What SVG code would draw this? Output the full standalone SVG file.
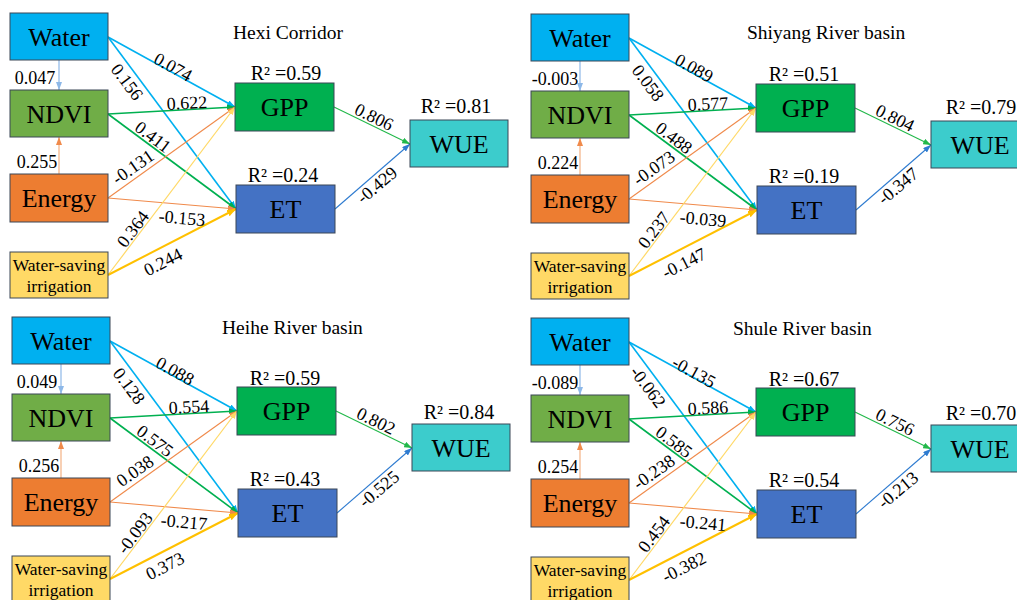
<svg xmlns="http://www.w3.org/2000/svg" width="1017" height="600" viewBox="0 0 1017 600" font-family="'Times New Roman', 'Liberation Serif', Tinos, 'DejaVu Serif', serif">
<style>
.box{stroke:#3b4656;stroke-width:1}
.water{fill:#00b0f0}.ndvi{fill:#70ad47}.energy{fill:#ed7d31}.wsi{fill:#ffd966}.gpp{fill:#00b050}.et{fill:#4472c4}.wue{fill:#3ccccc}
text{font-family:'Times New Roman','Liberation Serif',Tinos,serif;fill:#000}
.bt{font-size:26px;text-anchor:middle}
.st{font-size:17.5px;text-anchor:middle}
.lb{font-size:18px;text-anchor:middle}
.r2{font-size:20px;text-anchor:middle}
.ti{font-size:19.5px}
.e{fill:none}
.cw{stroke:#00b0f0;stroke-width:1.6}
.cwn{stroke:#8db8e8;stroke-width:1.2}
.cn{stroke:#00b050;stroke-width:1.6}
.ce{stroke:#f08a4b;stroke-width:1.1}
.cen{stroke:#f4b183;stroke-width:1.2}
.cy{stroke:#ffd966;stroke-width:1.2}
.cyy{stroke:#ffc000;stroke-width:2}
.cg{stroke:#22b84a;stroke-width:1.1}
.cb{stroke:#2e7bd0;stroke-width:1.1}
</style>
<defs>
<marker id="aw" markerUnits="userSpaceOnUse" markerWidth="8" markerHeight="6" refX="8" refY="3" orient="auto"><path d="M0,0L8,3L0,6z" fill="#00b0f0"/></marker>
<marker id="awn" markerUnits="userSpaceOnUse" markerWidth="8" markerHeight="6" refX="8" refY="3" orient="auto"><path d="M0,0L8,3L0,6z" fill="#8db8e8"/></marker>
<marker id="an" markerUnits="userSpaceOnUse" markerWidth="8" markerHeight="6" refX="8" refY="3" orient="auto"><path d="M0,0L8,3L0,6z" fill="#00b050"/></marker>
<marker id="ae" markerUnits="userSpaceOnUse" markerWidth="8" markerHeight="6" refX="8" refY="3" orient="auto"><path d="M0,0L8,3L0,6z" fill="#f08a4b"/></marker>
<marker id="aen" markerUnits="userSpaceOnUse" markerWidth="8" markerHeight="6" refX="8" refY="3" orient="auto"><path d="M0,0L8,3L0,6z" fill="#f08a4b"/></marker>
<marker id="ay" markerUnits="userSpaceOnUse" markerWidth="8" markerHeight="6" refX="8" refY="3" orient="auto"><path d="M0,0L8,3L0,6z" fill="#ffd966"/></marker>
<marker id="ayy" markerUnits="userSpaceOnUse" markerWidth="9" markerHeight="7" refX="9" refY="3.5" orient="auto"><path d="M0,0L9,3.5L0,7z" fill="#ffc000"/></marker>
<marker id="ag" markerUnits="userSpaceOnUse" markerWidth="8" markerHeight="6" refX="8" refY="3" orient="auto"><path d="M0,0L8,3L0,6z" fill="#22b84a"/></marker>
<marker id="ab" markerUnits="userSpaceOnUse" markerWidth="8" markerHeight="6" refX="8" refY="3" orient="auto"><path d="M0,0L8,3L0,6z" fill="#2e7bd0"/></marker>
</defs>

<!-- Panel 1: Hexi Corridor -->
<g id="panel1">
<text class="ti" x="233" y="39">Hexi Corridor</text>
<g id="p1-connectors">
<line class="e cwn" x1="59" y1="60" x2="59" y2="90" marker-end="url(#awn)"/>
<line class="e cen" x1="59" y1="174" x2="59" y2="137" marker-end="url(#aen)"/>
<line class="e cw" x1="108" y1="37" x2="235" y2="107" marker-end="url(#aw)"/>
<line class="e cw" x1="108" y1="37" x2="236" y2="209" marker-end="url(#aw)"/>
<line class="e cn" x1="108" y1="114" x2="235" y2="107" marker-end="url(#an)"/>
<line class="e cn" x1="108" y1="114" x2="236" y2="209" marker-end="url(#an)"/>
<line class="e ce" x1="108" y1="198" x2="235" y2="107" marker-end="url(#ae)"/>
<line class="e ce" x1="108" y1="198" x2="236" y2="209" marker-end="url(#ae)"/>
<line class="e cy" x1="108" y1="275" x2="235" y2="107" marker-end="url(#ay)"/>
<line class="e cyy" x1="108" y1="275" x2="236" y2="209" marker-end="url(#ayy)"/>
<line class="e cg" x1="334" y1="107" x2="410" y2="144" marker-end="url(#ag)"/>
<line class="e cb" x1="335" y1="209" x2="410" y2="144" marker-end="url(#ab)"/>
<text class="lb" transform="translate(173,67) rotate(29)" y="6">0.074</text>
<text class="lb" transform="translate(127,82) rotate(53)" y="6">0.156</text>
<text class="lb" transform="translate(187,103) rotate(-3)" y="6">0.622</text>
<text class="lb" transform="translate(153,137) rotate(37)" y="6">0.411</text>
<text class="lb" x="35" y="84">0.047</text>
<text class="lb" x="37" y="168">0.255</text>
<text class="lb" transform="translate(133,167) rotate(-35)" y="6">-0.131</text>
<text class="lb" transform="translate(182,218) rotate(5)" y="6">-0.153</text>
<text class="lb" transform="translate(133,229) rotate(-53)" y="6">0.364</text>
<text class="lb" transform="translate(163,262) rotate(-27)" y="6">0.244</text>
<text class="lb" transform="translate(374,117) rotate(26)" y="6">0.806</text>
<text class="lb" transform="translate(377,185) rotate(-40)" y="6">-0.429</text>
</g>
<g id="p1-water"><rect class="box water" x="10" y="13" width="98" height="47"/><text class="bt" x="59" y="46">Water</text></g>
<g id="p1-ndvi"><rect class="box ndvi" x="10" y="90" width="98" height="47"/><text class="bt" x="59" y="123">NDVI</text></g>
<g id="p1-energy"><rect class="box energy" x="10" y="174" width="98" height="48"/><text class="bt" x="59" y="207">Energy</text></g>
<g id="p1-wsi"><rect class="box wsi" x="10" y="252" width="98" height="46"/><text class="st" x="59" y="271">Water-saving</text><text class="st" x="59" y="292">irrigation</text></g>
<g id="p1-gpp"><rect class="box gpp" x="235" y="83" width="99" height="48"/><text class="bt" x="284.5" y="116">GPP</text><text class="r2" x="286" y="80">R² =0.59</text></g>
<g id="p1-et"><rect class="box et" x="236" y="185" width="99" height="48"/><text class="bt" x="285.5" y="218">ET</text><text class="r2" x="283" y="182">R² =0.24</text></g>
<g id="p1-wue"><rect class="box wue" x="410" y="120" width="98" height="47"/><text class="bt" x="459" y="153">WUE</text><text class="r2" x="456" y="113">R² =0.81</text></g>
</g>

<!-- Panel 2: Shiyang River basin -->
<g id="panel2" transform="translate(521,1)">
<text class="ti" x="226" y="38">Shiyang River basin</text>
<g id="p2-connectors">
<line class="e cwn" x1="59" y1="60" x2="59" y2="90" marker-end="url(#awn)"/>
<line class="e cen" x1="59" y1="174" x2="59" y2="137" marker-end="url(#aen)"/>
<line class="e cw" x1="108" y1="37" x2="235" y2="107" marker-end="url(#aw)"/>
<line class="e cw" x1="108" y1="37" x2="236" y2="209" marker-end="url(#aw)"/>
<line class="e cn" x1="108" y1="114" x2="235" y2="107" marker-end="url(#an)"/>
<line class="e cn" x1="108" y1="114" x2="236" y2="209" marker-end="url(#an)"/>
<line class="e ce" x1="108" y1="198" x2="235" y2="107" marker-end="url(#ae)"/>
<line class="e ce" x1="108" y1="198" x2="236" y2="209" marker-end="url(#ae)"/>
<line class="e cy" x1="108" y1="275" x2="235" y2="107" marker-end="url(#ay)"/>
<line class="e cyy" x1="108" y1="275" x2="236" y2="209" marker-end="url(#ayy)"/>
<line class="e cg" x1="334" y1="107" x2="410" y2="144" marker-end="url(#ag)"/>
<line class="e cb" x1="335" y1="209" x2="410" y2="144" marker-end="url(#ab)"/>
<text class="lb" transform="translate(173,67) rotate(29)" y="6">0.089</text>
<text class="lb" transform="translate(127,82) rotate(53)" y="6">0.058</text>
<text class="lb" transform="translate(187,103) rotate(-3)" y="6">0.577</text>
<text class="lb" transform="translate(153,137) rotate(37)" y="6">0.488</text>
<text class="lb" x="34" y="84">-0.003</text>
<text class="lb" x="37" y="168">0.224</text>
<text class="lb" transform="translate(133,167) rotate(-35)" y="6">-0.073</text>
<text class="lb" transform="translate(182,218) rotate(5)" y="6">-0.039</text>
<text class="lb" transform="translate(133,229) rotate(-53)" y="6">0.237</text>
<text class="lb" transform="translate(163,262) rotate(-27)" y="6">-0.147</text>
<text class="lb" transform="translate(374,117) rotate(26)" y="6">0.804</text>
<text class="lb" transform="translate(377,185) rotate(-40)" y="6">-0.347</text>
</g>
<g id="p2-water"><rect class="box water" x="10" y="13" width="98" height="47"/><text class="bt" x="59" y="46">Water</text></g>
<g id="p2-ndvi"><rect class="box ndvi" x="10" y="90" width="98" height="47"/><text class="bt" x="59" y="123">NDVI</text></g>
<g id="p2-energy"><rect class="box energy" x="10" y="174" width="98" height="48"/><text class="bt" x="59" y="207">Energy</text></g>
<g id="p2-wsi"><rect class="box wsi" x="10" y="252" width="98" height="46"/><text class="st" x="59" y="271">Water-saving</text><text class="st" x="59" y="292">irrigation</text></g>
<g id="p2-gpp"><rect class="box gpp" x="235" y="83" width="99" height="48"/><text class="bt" x="284.5" y="116">GPP</text><text class="r2" x="283" y="80">R² =0.51</text></g>
<g id="p2-et"><rect class="box et" x="236" y="185" width="99" height="48"/><text class="bt" x="285.5" y="218">ET</text><text class="r2" x="283" y="182">R² =0.19</text></g>
<g id="p2-wue"><rect class="box wue" x="410" y="120" width="98" height="47"/><text class="bt" x="459" y="153">WUE</text><text class="r2" x="460" y="113">R² =0.79</text></g>
</g>

<!-- Panel 3: Heihe River basin -->
<g id="panel3" transform="translate(2,304)">
<text class="ti" x="220" y="30">Heihe River basin</text>
<g id="p3-connectors">
<line class="e cwn" x1="59" y1="60" x2="59" y2="90" marker-end="url(#awn)"/>
<line class="e cen" x1="59" y1="174" x2="59" y2="137" marker-end="url(#aen)"/>
<line class="e cw" x1="108" y1="37" x2="235" y2="107" marker-end="url(#aw)"/>
<line class="e cw" x1="108" y1="37" x2="236" y2="209" marker-end="url(#aw)"/>
<line class="e cn" x1="108" y1="114" x2="235" y2="107" marker-end="url(#an)"/>
<line class="e cn" x1="108" y1="114" x2="236" y2="209" marker-end="url(#an)"/>
<line class="e ce" x1="108" y1="198" x2="235" y2="107" marker-end="url(#ae)"/>
<line class="e ce" x1="108" y1="198" x2="236" y2="209" marker-end="url(#ae)"/>
<line class="e cy" x1="108" y1="275" x2="235" y2="107" marker-end="url(#ay)"/>
<line class="e cyy" x1="108" y1="275" x2="236" y2="209" marker-end="url(#ayy)"/>
<line class="e cg" x1="334" y1="107" x2="410" y2="144" marker-end="url(#ag)"/>
<line class="e cb" x1="335" y1="209" x2="410" y2="144" marker-end="url(#ab)"/>
<text class="lb" transform="translate(173,67) rotate(29)" y="6">0.088</text>
<text class="lb" transform="translate(127,82) rotate(53)" y="6">0.128</text>
<text class="lb" transform="translate(187,103) rotate(-3)" y="6">0.554</text>
<text class="lb" transform="translate(153,137) rotate(37)" y="6">0.575</text>
<text class="lb" x="35" y="84">0.049</text>
<text class="lb" x="37" y="168">0.256</text>
<text class="lb" transform="translate(133,167) rotate(-35)" y="6">0.038</text>
<text class="lb" transform="translate(182,218) rotate(5)" y="6">-0.217</text>
<text class="lb" transform="translate(133,229) rotate(-53)" y="6">-0.093</text>
<text class="lb" transform="translate(163,262) rotate(-27)" y="6">0.373</text>
<text class="lb" transform="translate(374,117) rotate(26)" y="6">0.802</text>
<text class="lb" transform="translate(377,185) rotate(-40)" y="6">-0.525</text>
</g>
<g id="p3-water"><rect class="box water" x="10" y="13" width="98" height="47"/><text class="bt" x="59" y="46">Water</text></g>
<g id="p3-ndvi"><rect class="box ndvi" x="10" y="90" width="98" height="47"/><text class="bt" x="59" y="123">NDVI</text></g>
<g id="p3-energy"><rect class="box energy" x="10" y="174" width="98" height="48"/><text class="bt" x="59" y="207">Energy</text></g>
<g id="p3-wsi"><rect class="box wsi" x="10" y="252" width="98" height="46"/><text class="st" x="59" y="271">Water-saving</text><text class="st" x="59" y="292">irrigation</text></g>
<g id="p3-gpp"><rect class="box gpp" x="235" y="83" width="99" height="48"/><text class="bt" x="284.5" y="116">GPP</text><text class="r2" x="283" y="81">R² =0.59</text></g>
<g id="p3-et"><rect class="box et" x="236" y="185" width="99" height="48"/><text class="bt" x="285.5" y="218">ET</text><text class="r2" x="283" y="182">R² =0.43</text></g>
<g id="p3-wue"><rect class="box wue" x="410" y="120" width="98" height="47"/><text class="bt" x="459" y="153">WUE</text><text class="r2" x="457" y="115">R² =0.84</text></g>
</g>

<!-- Panel 4: Shule River basin -->
<g id="panel4" transform="translate(521,305)">
<text class="ti" x="212" y="30">Shule River basin</text>
<g id="p4-connectors">
<line class="e cwn" x1="59" y1="60" x2="59" y2="90" marker-end="url(#awn)"/>
<line class="e cen" x1="59" y1="174" x2="59" y2="137" marker-end="url(#aen)"/>
<line class="e cw" x1="108" y1="37" x2="235" y2="107" marker-end="url(#aw)"/>
<line class="e cw" x1="108" y1="37" x2="236" y2="209" marker-end="url(#aw)"/>
<line class="e cn" x1="108" y1="114" x2="235" y2="107" marker-end="url(#an)"/>
<line class="e cn" x1="108" y1="114" x2="236" y2="209" marker-end="url(#an)"/>
<line class="e ce" x1="108" y1="198" x2="235" y2="107" marker-end="url(#ae)"/>
<line class="e ce" x1="108" y1="198" x2="236" y2="209" marker-end="url(#ae)"/>
<line class="e cy" x1="108" y1="275" x2="235" y2="107" marker-end="url(#ay)"/>
<line class="e cyy" x1="108" y1="275" x2="236" y2="209" marker-end="url(#ayy)"/>
<line class="e cg" x1="334" y1="107" x2="410" y2="144" marker-end="url(#ag)"/>
<line class="e cb" x1="335" y1="209" x2="410" y2="144" marker-end="url(#ab)"/>
<text class="lb" transform="translate(173,67) rotate(29)" y="6">-0.135</text>
<text class="lb" transform="translate(127,82) rotate(53)" y="6">-0.062</text>
<text class="lb" transform="translate(187,103) rotate(-3)" y="6">0.586</text>
<text class="lb" transform="translate(153,137) rotate(37)" y="6">0.585</text>
<text class="lb" x="34" y="84">-0.089</text>
<text class="lb" x="37" y="168">0.254</text>
<text class="lb" transform="translate(133,167) rotate(-35)" y="6">-0.238</text>
<text class="lb" transform="translate(182,218) rotate(5)" y="6">-0.241</text>
<text class="lb" transform="translate(133,229) rotate(-53)" y="6">0.454</text>
<text class="lb" transform="translate(163,262) rotate(-27)" y="6">-0.382</text>
<text class="lb" transform="translate(374,117) rotate(26)" y="6">0.756</text>
<text class="lb" transform="translate(377,185) rotate(-40)" y="6">-0.213</text>
</g>
<g id="p4-water"><rect class="box water" x="10" y="13" width="98" height="47"/><text class="bt" x="59" y="46">Water</text></g>
<g id="p4-ndvi"><rect class="box ndvi" x="10" y="90" width="98" height="47"/><text class="bt" x="59" y="123">NDVI</text></g>
<g id="p4-energy"><rect class="box energy" x="10" y="174" width="98" height="48"/><text class="bt" x="59" y="207">Energy</text></g>
<g id="p4-wsi"><rect class="box wsi" x="10" y="252" width="98" height="46"/><text class="st" x="59" y="271">Water-saving</text><text class="st" x="59" y="292">irrigation</text></g>
<g id="p4-gpp"><rect class="box gpp" x="235" y="83" width="99" height="48"/><text class="bt" x="284.5" y="116">GPP</text><text class="r2" x="283" y="81">R² =0.67</text></g>
<g id="p4-et"><rect class="box et" x="236" y="185" width="99" height="48"/><text class="bt" x="285.5" y="218">ET</text><text class="r2" x="283" y="182">R² =0.54</text></g>
<g id="p4-wue"><rect class="box wue" x="410" y="120" width="98" height="47"/><text class="bt" x="459" y="153">WUE</text><text class="r2" x="460" y="115">R² =0.70</text></g>
</g>
</svg>
